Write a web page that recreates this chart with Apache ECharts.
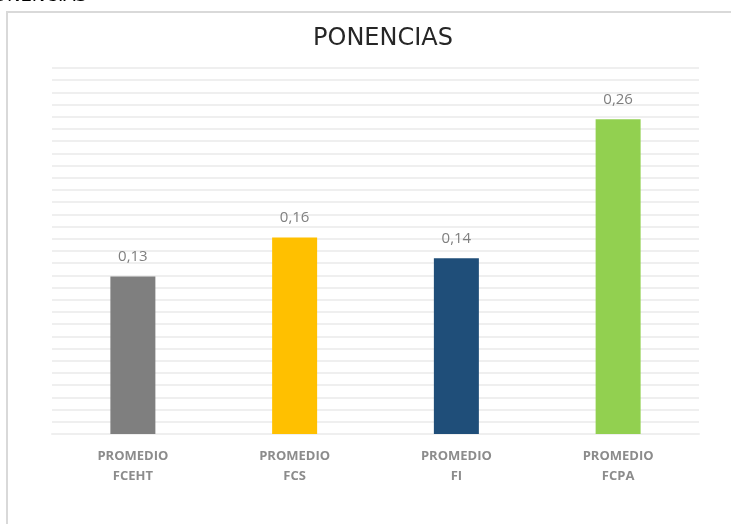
<!DOCTYPE html>
<html>
<head>
<meta charset="utf-8">
<script src="https://cdn.jsdelivr.net/npm/echarts@6/dist/echarts.min.js"></script>
<style>
  html, body { margin: 0; padding: 0; background: #fff; }
  .chart { width: 731px; height: 524px; }
</style>
</head>
<body>
<div class="chart"></div>
<script>
// datos del gráfico
var categorias = ['PROMEDIO\nFCEHT', 'PROMEDIO\nFCS', 'PROMEDIO\nFI', 'PROMEDIO\nFCPA'];
var valores = [0.129, 0.161, 0.144, 0.258];
var colores = ['#7f7f7f', '#ffc000', '#1f4e79', '#92d050'];

var $chart = document.querySelector('.chart');
var myChart = echarts.init($chart);

var options = {
  animation: false,
  title: {
    text: 'PONENCIAS',
    left: 378,
    top: 22,
    textAlign: 'center',
    textStyle: {
      fontFamily: 'DejaVu Sans',
      fontSize: 24,
      fontWeight: 'normal',
      color: '#262626'
    }
  },
  graphic: [{
    type: 'rect',
    shape: { x: 7, y: 12, width: 900, height: 700 },
    style: { fill: 'none', stroke: '#d9d9d9', lineWidth: 2 },
    z: -1
  }, {
    // texto cortado arriba a la izquierda
    type: 'text',
    left: -18,
    top: -13,
    style: {
      text: 'PONENCIAS',
      fontFamily: 'DejaVu Sans',
      fontSize: 18,
      fill: '#000'
    }
  }],
  grid: {
    left: 52,
    right: 32,
    top: 68,
    bottom: 90
  },
  xAxis: {
    type: 'category',
    data: categorias,
    axisLine: { lineStyle: { color: '#efefef', width: 2 } },
    axisTick: { show: false },
    axisLabel: {
      margin: 12,
      fontFamily: 'Open Sans',
      fontSize: 13,
      fontWeight: 'bold',
      lineHeight: 20,
      color: '#8c8c8c'
    }
  },
  yAxis: {
    type: 'value',
    min: 0,
    max: 0.3,
    interval: 0.01,
    axisLabel: { show: false },
    axisLine: { show: false },
    axisTick: { show: false },
    splitLine: { lineStyle: { color: '#efefef', width: 2 } }
  },
  series: [{
    type: 'bar',
    barWidth: 45,
    data: valores.map(function(v, i) {
      return { value: v, itemStyle: { color: colores[i] } };
    }),
    label: {
      show: true,
      position: 'top',
      distance: 12,
      fontFamily: 'Open Sans',
      fontSize: 15,
      color: '#7f7f7f',
      formatter: function(p) {
        return p.value.toFixed(2).replace('.', ',');
      }
    }
  }]
};

myChart.setOption(options);
</script>
</body>
</html>
